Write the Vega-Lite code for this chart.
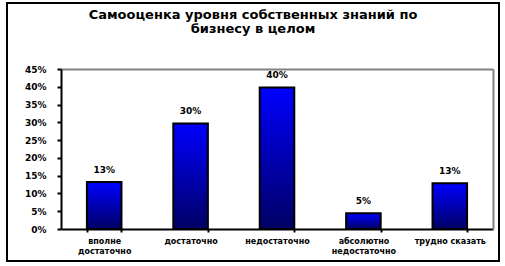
{
  "$schema": "https://vega.github.io/schema/vega-lite/v6.json",
  "autosize": "none",
  "width": 492,
  "height": 258,
  "padding": {"left": 7, "top": 3, "right": 6, "bottom": 5},
  "background": "white",
  "title": {
    "text": ["Самооценка уровня собственных знаний по", "бизнесу в целом"],
    "font": "DejaVu Sans",
    "fontSize": 13,
    "fontWeight": "bold",
    "color": "black",
    "baseline": "bottom",
    "lineHeight": 14,
    "offset": -46,
    "anchor": "middle",
    "frame": "group"
  },
  "data": {
    "values": [
      {"category": "вполне достаточно", "value": 0.132, "label": "13%"},
      {"category": "достаточно", "value": 0.297, "label": "30%"},
      {"category": "недостаточно", "value": 0.398, "label": "40%"},
      {"category": "абсолютно недостаточно", "value": 0.044, "label": "5%"},
      {"category": "трудно сказать", "value": 0.129, "label": "13%"}
    ]
  },
  "layer": [
    {
      "mark": {
        "type": "bar",
        "stroke": "black",
        "strokeWidth": 2,
        "color": {
          "gradient": "linear",
          "x1": 0, "y1": 0, "x2": 0, "y2": 1,
          "stops": [
            {"offset": 0, "color": "#0000ff"},
            {"offset": 1, "color": "#000064"}
          ]
        }
      },
      "encoding": {
        "x": {
          "field": "category",
          "type": "nominal",
          "sort": null,
          "scale": {"range": [54, 486], "paddingInner": 0.6, "paddingOuter": 0.3},
          "axis": {
            "orient": "bottom",
            "offset": -32,
            "title": null,
            "labelAngle": 0,
            "tickBand": "extent",
            "tickSize": 3,
            "tickWidth": 2,
            "tickColor": "black",
            "domainColor": "black",
            "domainWidth": 2,
            "labelFont": "DejaVu Sans",
            "labelFontSize": 8,
            "labelFontWeight": "bold",
            "labelColor": "black",
            "labelPadding": 5,
            "labelLineHeight": 10,
            "labelBaseline": "top",
            "labelExpr": "datum.label == 'трудно сказать' || datum.label == 'достаточно' || datum.label == 'недостаточно' ? datum.label : split(datum.label, ' ')"
          }
        },
        "y": {
          "field": "value",
          "type": "quantitative",
          "scale": {"domain": [0, 0.45], "range": [226, 66], "nice": false},
          "axis": {
            "orient": "left",
            "offset": -54,
            "title": null,
            "values": [0, 0.05, 0.1, 0.15, 0.2, 0.25, 0.3, 0.35, 0.4, 0.45],
            "format": ".0%",
            "grid": false,
            "tickSize": 4,
            "tickWidth": 2,
            "tickColor": "black",
            "domainColor": "black",
            "domainWidth": 2,
            "labelFont": "DejaVu Sans",
            "labelFontSize": 9,
            "labelFontWeight": "bold",
            "labelColor": "black",
            "labelPadding": 11
          }
        }
      }
    },
    {
      "mark": {
        "type": "text",
        "baseline": "bottom",
        "dy": -7,
        "font": "DejaVu Sans",
        "fontSize": 9,
        "fontWeight": "bold",
        "color": "black"
      },
      "encoding": {
        "x": {
          "field": "category",
          "type": "nominal",
          "sort": null,
          "axis": {
            "orient": "top",
            "offset": -66,
            "title": null,
            "labels": false,
            "ticks": false,
            "domainColor": "#808080",
            "domainWidth": 2
          }
        },
        "y": {
          "field": "value",
          "type": "quantitative",
          "axis": {
            "orient": "right",
            "offset": -6,
            "title": null,
            "labels": false,
            "ticks": false,
            "grid": false,
            "domainColor": "#808080",
            "domainWidth": 2
          }
        },
        "text": {"field": "label"}
      }
    }
  ],
  "resolve": {"axis": {"x": "independent", "y": "independent"}},
  "config": {
    "view": {"stroke": "black", "strokeWidth": 2},
    "axis": {"grid": false}
  }
}
